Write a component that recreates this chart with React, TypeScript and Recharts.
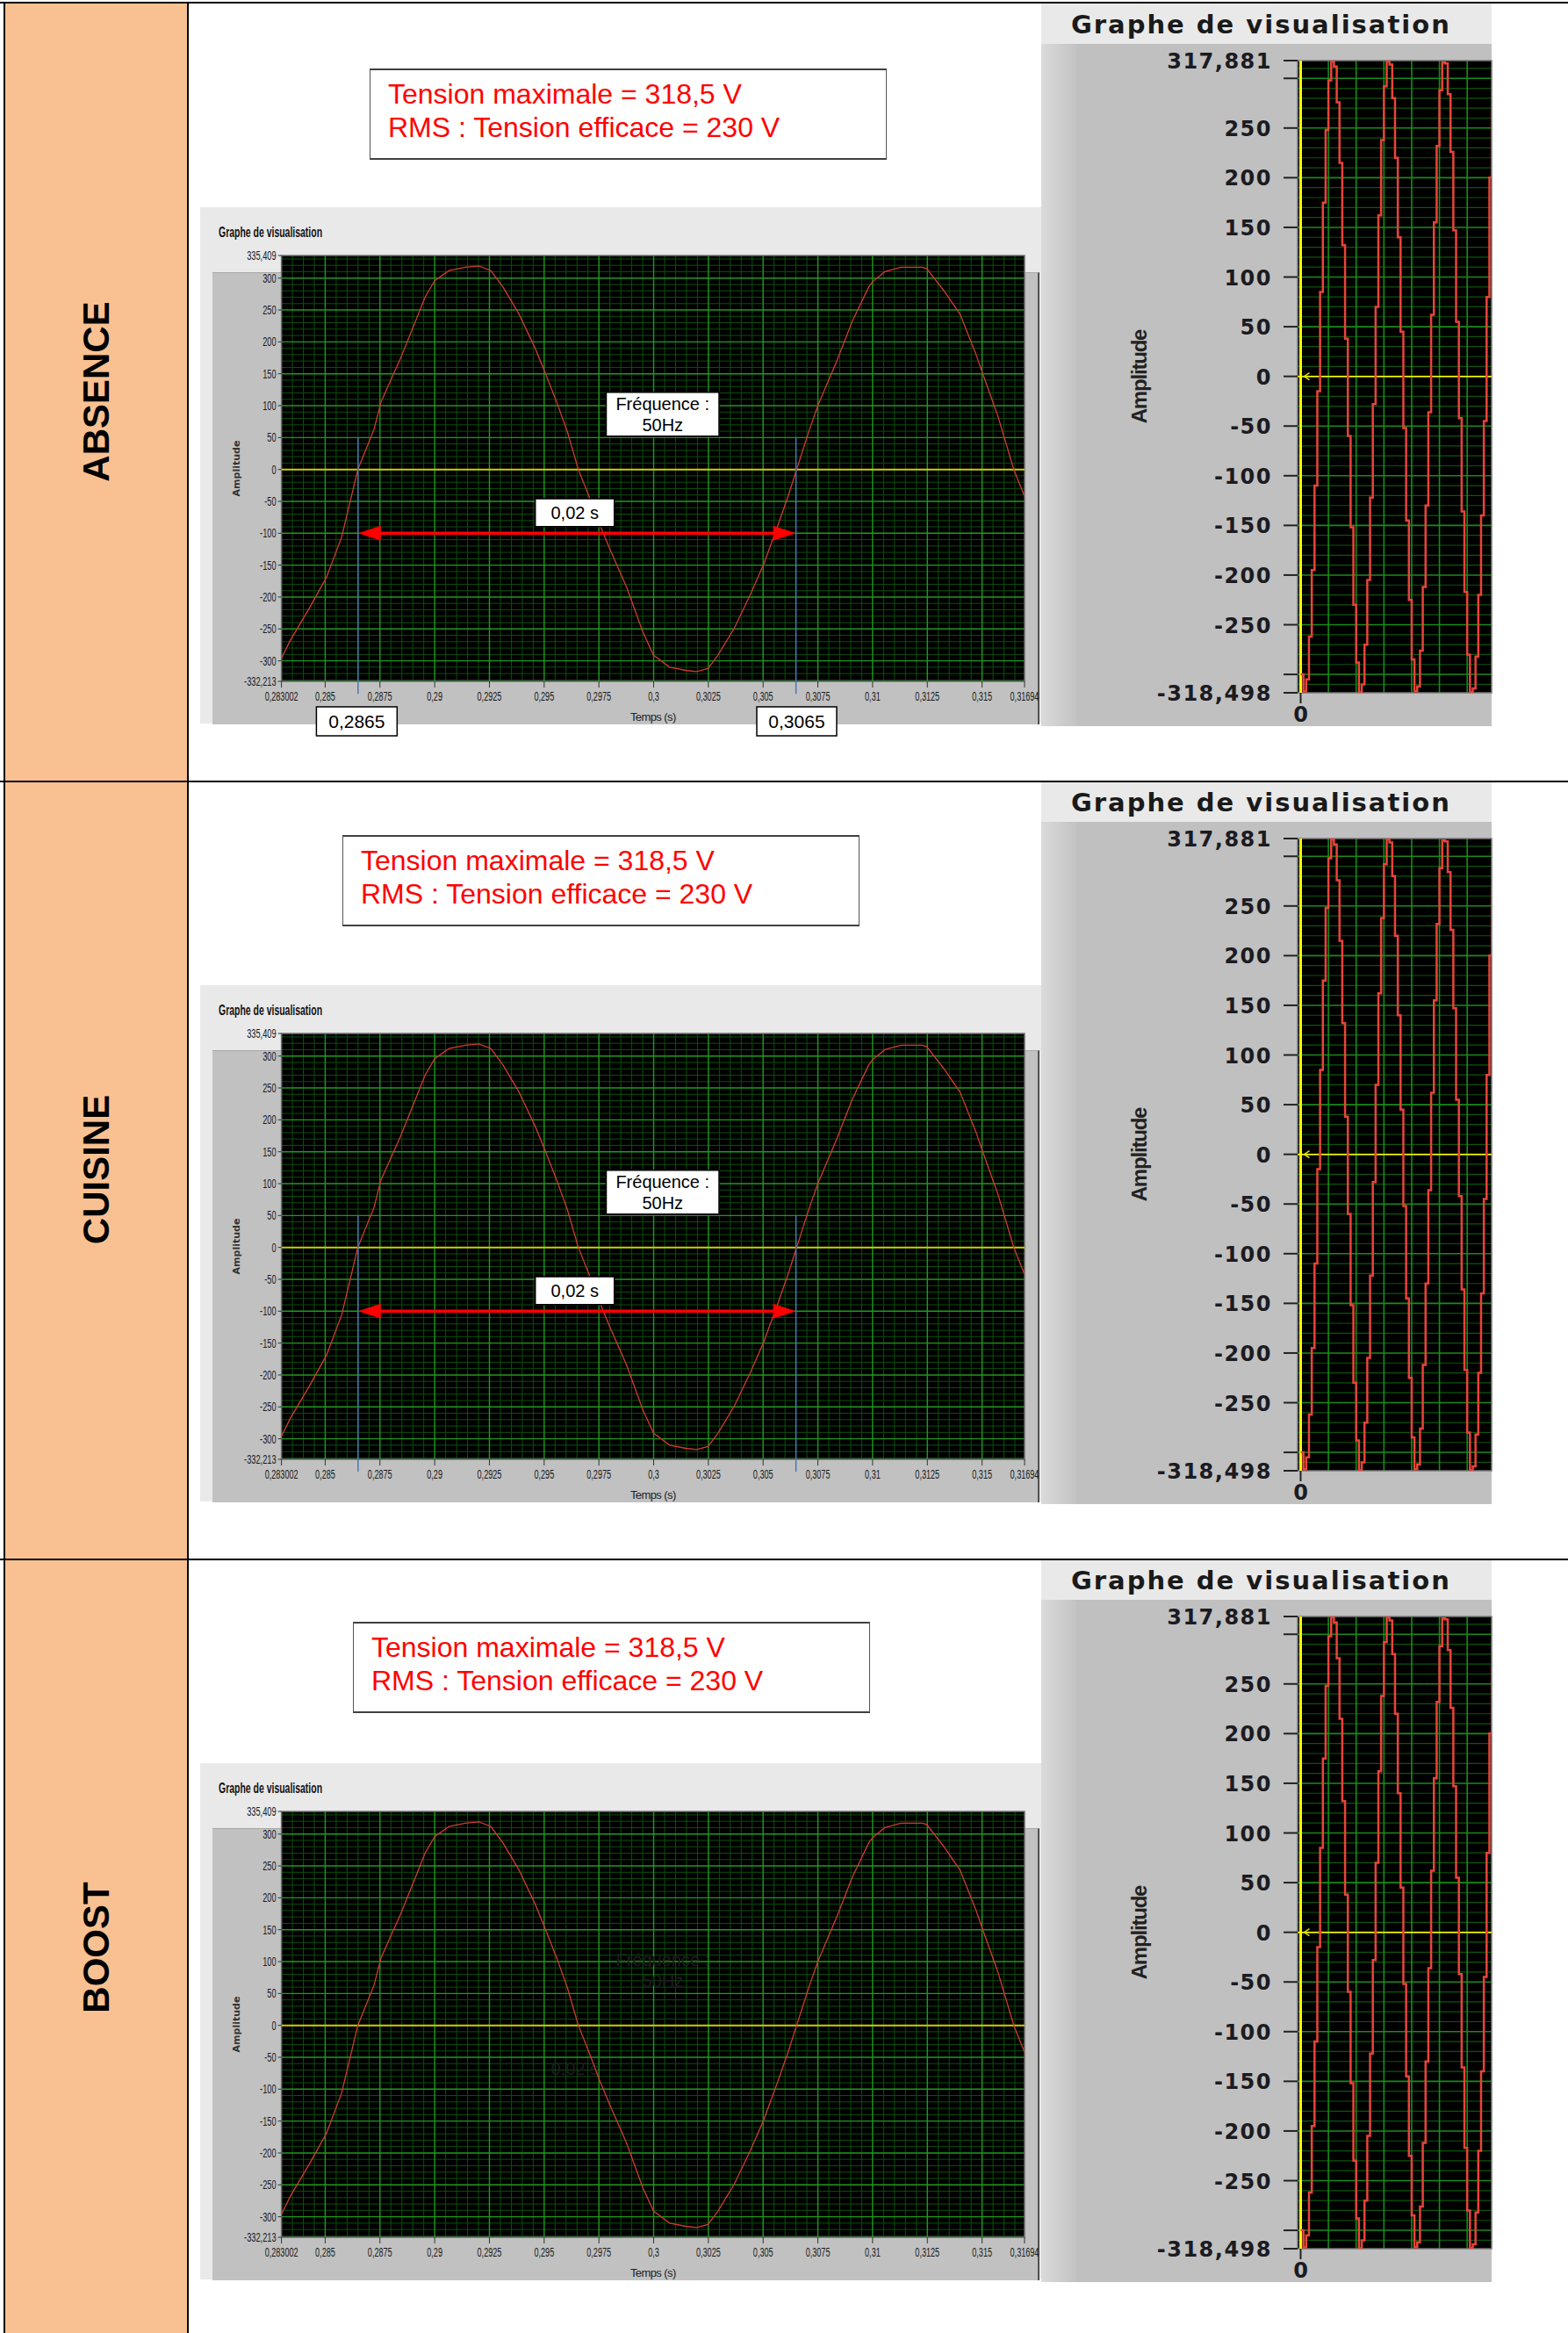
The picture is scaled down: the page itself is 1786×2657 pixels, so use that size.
import React from 'react';
import {
  LineChart, Line, XAxis, YAxis, CartesianGrid,
  ReferenceLine, ReferenceArea, ReferenceDot,
} from 'recharts';

// Graphe de visualisation (fenêtre de 2 périodes) : temps en s, amplitude en V
const temps = [
  0.283002, 0.28342, 0.28428, 0.28506, 0.28575, 0.28649, 0.28723, 0.28755, 0.28845, 0.28919,
  0.28956, 0.29, 0.29066, 0.2914, 0.29201, 0.29256, 0.29312, 0.29386, 0.29459, 0.29503,
  0.29557, 0.29607, 0.29656, 0.29705, 0.29752, 0.29803, 0.29877, 0.2995, 0.29999, 0.30073,
  0.30147, 0.30196, 0.30248, 0.30294, 0.30368, 0.30442, 0.30503, 0.30565, 0.30614, 0.30653,
  0.30712, 0.30751, 0.30835, 0.30908, 0.30982, 0.30999, 0.31056, 0.31129, 0.31227, 0.31247,
  0.31326, 0.314, 0.31473, 0.315, 0.31571, 0.31645, 0.31694,
];
const amplitude = [
  -296, -267, -217, -169, -106, 0, 63, 106, 175, 238,
  270, 296, 312, 317, 319, 312, 286, 243, 190, 153,
  106, 58, 0, -42, -85, -127, -185, -254, -291, -310,
  -315, -317, -312, -291, -249, -196, -148, -90, -42, 0,
  63, 101, 169, 233, 286, 294, 310, 317, 317, 315,
  280, 243, 180, 153, 85, 0, -42,
];

// Graphe compressé (colonne de droite) : amplitude par échantillon
const amplitudeEchantillons = [
  -300, -317, -305, -262, -195, -110, -15, 85, 175, 248,
  298, 317, 312, 276, 215, 132, 38, -60, -152, -230,
  -288, -318, -310, -270, -205, -122, -28, 70, 162, 238,
  292, 317, 314, 280, 220, 140, 45, -52, -145, -225,
  -285, -317, -312, -276, -212, -130, -36, 62, 155, 232,
  288, 316, 315, 284, 226, 147, 55, -42, -136, -217,
  -280, -318, -314, -282, -220, -140, -45, 80, 200, 270,
];

const ticksTemps = [
  0.283002, 0.285, 0.2875, 0.29, 0.2925, 0.295, 0.2975, 0.3, 0.3025, 0.305,
  0.3075, 0.31, 0.3125, 0.315, 0.31694,
];
const ticksAmplitude = [335.409, 300, 250, 200, 150, 100, 50, 0, -50, -100, -150, -200, -250, -300, -332.213];
const ticksAmplitudeDroite = [317.881, 300, 250, 200, 150, 100, 50, 0, -50, -100, -150, -200, -250, -300, -318.498];
const ticksSansEtiquette = [300, -300];

const modes = ['ABSENCE', 'CUISINE', 'BOOST'];
const mesures = ['Tension maximale = 318,5 V', 'RMS : Tension efficace = 230 V'];
const curseurs = [0.2865, 0.3065];
const etiquettesCurseurs = ['0,2865', '0,3065'];
const frequence = ['Fréquence :', '50Hz'];
const periode = '0,02 s';

const donneesTemps = temps.map((t, i) => ({ t, v: amplitude[i] }));
const donneesEchantillons = amplitudeEchantillons.map((v, n) => ({ n, v }));

// quadrillage (mise en forme)
const grilleMineureY = Array.from({ length: 67 }, (_, i) => -330 + i * 10).filter((v) => v % 50 !== 0);
const grilleMajeureY = Array.from({ length: 13 }, (_, i) => -300 + i * 50);
const grilleMineureX = Array.from({ length: 67 }, (_, i) => 567 + i).filter((k) => k % 5 !== 0).map((k) => k / 2000);
const grilleMajeureX = ticksTemps.slice(1, -1);
const grilleDroiteMineureY = Array.from({ length: 63 }, (_, i) => -310 + i * 10).filter((v) => v % 50 !== 0);
const grilleDroiteMajeureY = Array.from({ length: 13 }, (_, i) => -300 + i * 50);
const grilleDroiteX = [10, 20, 30, 40, 50, 60];

const ROW = 886;
const ORANGE = '#f9c191';
const DOMAINE_T: [number, number] = [0.283002, 0.31694];
const DOMAINE_A: [number, number] = [-332.213, 335.409];
const MARGE_T = { top: 11, right: 19, bottom: 21, left: 32.6 };
const fmt = (v: number) => String(v).replace('.', ',');

const options = [
  { curseurs: true, valeurs: true, fantome: false, boite: { left: 421, top: 78 } },
  { curseurs: true, valeurs: false, fantome: false, boite: { left: 390, top: 951 } },
  { curseurs: false, valeurs: false, fantome: true, boite: { left: 402, top: 1847 } },
];

const TickNarrowY = (props: any) => {
  const { x, y, payload } = props;
  return (
    <g transform={`translate(${x},${y}) scale(0.66,1)`}>
      <text x={0} y={0} dy={5} textAnchor="end" fontSize={14} fill="#1a1a1a" fontFamily="'Liberation Sans', Arial">
        {fmt(payload.value)}
      </text>
    </g>
  );
};

const TickNarrowX = (props: any) => {
  const { x, y, payload } = props;
  return (
    <g transform={`translate(${x},${y}) scale(0.65,1)`}>
      <text x={0} y={0} dy={12} textAnchor="middle" fontSize={14} fill="#1a1a1a" fontFamily="'Liberation Sans', Arial">
        {fmt(payload.value)}
      </text>
    </g>
  );
};

const TickBoldY = (props: any) => {
  const { x, y, payload } = props;
  if (ticksSansEtiquette.includes(payload.value)) return <g />;
  return (
    <text x={x} y={y} dy={9} textAnchor="end" fontSize={24} fontWeight="bold" letterSpacing={1.5}
      fill="#1b1b22" fontFamily="'DejaVu Sans', Verdana">
      {fmt(payload.value)}
    </text>
  );
};

const TickBoldX = (props: any) => {
  const { x, y, payload } = props;
  return (
    <text x={x} y={y} dy={19} textAnchor="middle" fontSize={24} fontWeight="bold"
      fill="#1b1b22" fontFamily="'DejaVu Sans', Verdana">
      {fmt(payload.value)}
    </text>
  );
};

const texteBoite = (lignes: string[], taille: number, couleur = '#000') => (props: any) => {
  const { x, y, width, height } = props.viewBox;
  const cx = x + width / 2;
  const cy = y + height / 2;
  const lh = taille * 1.17;
  return (
    <text textAnchor="middle" fontSize={taille} fill={couleur} fontFamily="'Liberation Sans', Arial">
      {lignes.map((l, i) => (
        <tspan key={i} x={cx} y={cy + (i - (lignes.length - 1) / 2) * lh + taille * 0.36}>{l}</tspan>
      ))}
    </text>
  );
};

const flecheDouble = (props: any) => {
  const { x1, y1, x2, y2 } = props;
  const h = 26;
  const w = 8.5;
  return (
    <g>
      <line x1={x1 + h - 2} y1={y1} x2={x2 - h + 2} y2={y2} stroke="#ff0000" strokeWidth={3.5} />
      <polygon points={`${x1},${y1} ${x1 + h},${y1 - w} ${x1 + h},${y1 + w}`} fill="#ff0000" />
      <polygon points={`${x2},${y2} ${x2 - h},${y2 - w} ${x2 - h},${y2 + w}`} fill="#ff0000" />
    </g>
  );
};

const chevron = (props: any) => {
  const { cx, cy } = props;
  return <path d={`M${cx + 10},${cy - 4} L${cx + 4},${cy} L${cx + 10},${cy + 4}`} stroke="#e6e600" strokeWidth={1.5} fill="none" />;
};

function GrapheTemps({ rang }: { rang: number }) {
  const o = options[rang];
  return (
    <LineChart width={958} height={565} data={donneesTemps} margin={MARGE_T}>
      <CartesianGrid fill="#000" stroke="#0b500b" strokeWidth={1}
        horizontalValues={grilleMineureY} verticalValues={grilleMineureX} />
      <CartesianGrid fill="none" stroke="#1f9a1f" strokeWidth={1.4}
        horizontalValues={grilleMajeureY} verticalValues={grilleMajeureX} />
      <XAxis dataKey="t" type="number" domain={DOMAINE_T} ticks={ticksTemps} interval={0}
        allowDataOverflow tick={<TickNarrowX />} tickSize={7} tickMargin={3} axisLine={false}
        tickLine={{ stroke: '#333' }} height={48}
        label={{ value: 'Temps (s)', position: 'insideBottom', offset: 3,
          style: { textAnchor: 'middle', fontSize: 13, fill: '#222', letterSpacing: -0.6, fontFamily: "'Liberation Sans', Arial" } }} />
      <YAxis type="number" domain={DOMAINE_A} ticks={ticksAmplitude} interval={0}
        allowDataOverflow tick={<TickNarrowY />} tickSize={4} tickMargin={2} axisLine={false}
        tickLine={{ stroke: '#333' }} width={60}
        label={{ value: 'Amplitude', angle: -90, position: 'insideLeft', offset: 9,
          style: { textAnchor: 'middle', fontSize: 11, fontWeight: 'bold', fill: '#333', fontFamily: "'DejaVu Sans', Verdana" } }} />
      <ReferenceArea x1={DOMAINE_T[0]} x2={DOMAINE_T[1]} y1={DOMAINE_A[0]} y2={DOMAINE_A[1]} fill="none" stroke="#707070" strokeWidth={1.5} />
      <ReferenceLine y={0} stroke="#cccc00" strokeWidth={2} />
      {o.fantome && (
        <ReferenceArea x1={0.297834} x2={0.302986} y1={52.3} y2={121} fill="none" stroke="none"
          label={texteBoite(frequence, 20, '#1e1e1e')} />
      )}
      {o.fantome && (
        <ReferenceArea x1={0.294594} x2={0.298203} y1={-89.5} y2={-45.8} fill="none" stroke="none"
          label={texteBoite([periode], 20, '#1e1e1e')} />
      )}
      <Line type="linear" dataKey="v" stroke="#d23a32" strokeWidth={1.3} dot={false} isAnimationActive={false} />
    </LineChart>
  );
}

// calque d'annotations, mêmes axes que GrapheTemps, dessiné au-dessus de la courbe
function AnnotationsTemps({ rang }: { rang: number }) {
  const o = options[rang];
  if (!o.curseurs) return null;
  return (
    <LineChart width={958} height={565} data={donneesTemps} margin={MARGE_T}>
      <XAxis dataKey="t" type="number" domain={DOMAINE_T} allowDataOverflow tick={false} tickLine={false} axisLine={false} height={48} />
      <YAxis type="number" domain={DOMAINE_A} allowDataOverflow tick={false} tickLine={false} axisLine={false} width={60} />
      {curseurs.map((c) => (
        <ReferenceLine key={c} segment={[{ x: c, y: 50 }, { x: c, y: -352 }]} ifOverflow="visible"
          stroke="#4a78b5" strokeWidth={1.5} />
      ))}
      <ReferenceLine segment={[{ x: curseurs[0], y: -100 }, { x: curseurs[1], y: -100 }]} shape={flecheDouble} />
      <ReferenceArea x1={0.297834} x2={0.302986} y1={52.3} y2={121} fill="#fff" fillOpacity={1}
        stroke="#000" strokeWidth={1.5} label={texteBoite(frequence, 20)} />
      <ReferenceArea x1={0.294594} x2={0.298203} y1={-89.5} y2={-45.8} fill="#fff" fillOpacity={1}
        stroke="#000" strokeWidth={1.5} label={texteBoite([periode], 20)} />
      {o.valeurs && (
        <ReferenceArea x1={0.284598} x2={0.288283} y1={-417.5} y2={-372.1} ifOverflow="visible"
          fill="#fff" fillOpacity={1} stroke="#000" strokeWidth={1.5} label={texteBoite([etiquettesCurseurs[0]], 21)} />
      )}
      {o.valeurs && (
        <ReferenceArea x1={0.30471} x2={0.308359} y1={-417.5} y2={-372.1} ifOverflow="visible"
          fill="#fff" fillOpacity={1} stroke="#000" strokeWidth={1.5} label={texteBoite([etiquettesCurseurs[1]], 21)} />
      )}
    </LineChart>
  );
}

function GrapheEchantillons() {
  return (
    <LineChart width={514} height={784} data={donneesEchantillons} margin={{ top: 20, right: 1, bottom: 2, left: 0 }}>
      <CartesianGrid fill="#000" stroke="#0b560b" strokeWidth={1.2}
        horizontalValues={grilleDroiteMineureY} vertical={false} />
      <CartesianGrid fill="none" stroke="#188c18" strokeWidth={1.6}
        horizontalValues={grilleDroiteMajeureY} verticalValues={grilleDroiteX} />
      <XAxis dataKey="n" type="number" domain={[-1.1, 68.8]} ticks={[0]} interval={0} allowDataOverflow
        tick={<TickBoldX />} tickSize={12} tickMargin={2} axisLine={false}
        tickLine={{ stroke: '#222', strokeWidth: 2 }} height={42} />
      <YAxis type="number" domain={[-318.498, 317.881]} ticks={ticksAmplitudeDroite} interval={0} allowDataOverflow
        tick={<TickBoldY />} tickSize={16} tickMargin={13} axisLine={false}
        tickLine={{ stroke: '#222', strokeWidth: 2 }} width={292}
        label={{ value: 'Amplitude', angle: -90, position: 'insideLeft', offset: 111,
          style: { textAnchor: 'middle', fontSize: 24, fontWeight: 'bold', letterSpacing: -1.2, fill: '#222', fontFamily: "'Liberation Sans', Arial" } }} />
      <ReferenceArea x1={-1.1} x2={68.8} y1={-318.498} y2={317.881} fill="none" stroke="#7a7a7a" strokeWidth={1.5} />
      <ReferenceLine y={0} stroke="#ffff00" strokeWidth={1.5} />
      <ReferenceLine x={0} stroke="#ffff00" strokeWidth={3} />
      <ReferenceDot x={0} y={0} shape={chevron} />
      <Line type="stepAfter" dataKey="v" stroke="#e8443a" strokeWidth={2.5} dot={false} isAnimationActive={false} />
    </LineChart>
  );
}

function Rangee({ rang }: { rang: number }) {
  const top = 3 + rang * ROW;
  const b = options[rang].boite;
  return (
    <>
      <div style={{ position: 'absolute', left: 110, top: top + 443, transform: 'translate(-50%,-50%) rotate(-90deg)',
        fontFamily: "'Liberation Sans', Arial", fontWeight: 'bold', fontSize: 42, whiteSpace: 'nowrap', color: '#000' }}>
        {modes[rang]}
      </div>

      <div style={{ position: 'absolute', left: b.left, top: b.top, width: 589, height: 104, boxSizing: 'border-box',
        borderTop: '2px solid #404040', borderBottom: '2px solid #404040', borderLeft: '1px solid #555', borderRight: '1px solid #555',
        background: '#fff' }}>
        {mesures.map((m, i) => (
          <div key={m} style={{ position: 'absolute', left: 20, top: 11 + i * 38, fontSize: 32, lineHeight: '32px',
            color: '#ff0000', fontFamily: "'Liberation Sans', Arial", whiteSpace: 'nowrap' }}>{m}</div>
        ))}
      </div>

      {/* panneau du graphe principal */}
      <div style={{ position: 'absolute', left: 228, top: top + 233, width: 958, height: 588, background: '#e9e9e9' }} />
      <div style={{ position: 'absolute', left: 242, top: top + 307, width: 940, height: 514, background: '#c1c1c1',
        borderTop: '1px solid #a8a8a8', borderRight: '2px solid #505050' }} />
      <div style={{ position: 'absolute', left: 249, top: top + 254, fontSize: 16, lineHeight: '16px', fontWeight: 'bold',
        fontFamily: "'Liberation Sans', Arial", color: '#111', transform: 'scaleX(0.654)', transformOrigin: 'left',
        whiteSpace: 'nowrap' }}>Graphe de visualisation</div>
      <div style={{ position: 'absolute', left: 228, top: top + 277 }}>
        <GrapheTemps rang={rang} />
      </div>
      <div style={{ position: 'absolute', left: 228, top: top + 277, pointerEvents: 'none' }}>
        <AnnotationsTemps rang={rang} />
      </div>

      {/* panneau du graphe compressé */}
      <div style={{ position: 'absolute', left: 1186, top: top + 1, width: 513, height: 46, background: '#e9e9e9' }} />
      <div style={{ position: 'absolute', left: 1186, top: top + 47, width: 513, height: 777, background: '#c0c0c0' }} />
      <div style={{ position: 'absolute', left: 1186, top: top + 47, width: 40, height: 777,
        background: 'linear-gradient(to right, #dadada, #c3c3c3)' }} />
      <div style={{ position: 'absolute', left: 1220, top: top + 11, fontSize: 29, lineHeight: '29px', fontWeight: 'bold',
        letterSpacing: 2, fontFamily: "'DejaVu Sans', Verdana", color: '#1a1a1a', whiteSpace: 'nowrap' }}>
        Graphe de visualisation
      </div>
      <div style={{ position: 'absolute', left: 1186, top: top + 46 }}>
        <GrapheEchantillons />
      </div>
    </>
  );
}

export default function App() {
  return (
    <div style={{ position: 'absolute', left: 0, top: 0, width: 1786, height: 2657, background: '#fff', overflow: 'hidden' }}>
      <div style={{ position: 'absolute', left: 5, top: 3, width: 209, height: 2654, background: ORANGE }} />
      <div style={{ position: 'absolute', left: 4, top: 3, width: 2, height: 2654, background: '#000' }} />
      <div style={{ position: 'absolute', left: 213, top: 3, width: 2, height: 2654, background: '#000' }} />
      {modes.map((m, r) => <Rangee key={m} rang={r} />)}
      {[2, 889, 1775].map((y) => (
        <div key={y} style={{ position: 'absolute', left: 0, top: y, width: 1786, height: 2, background: '#000' }} />
      ))}
    </div>
  );
}
